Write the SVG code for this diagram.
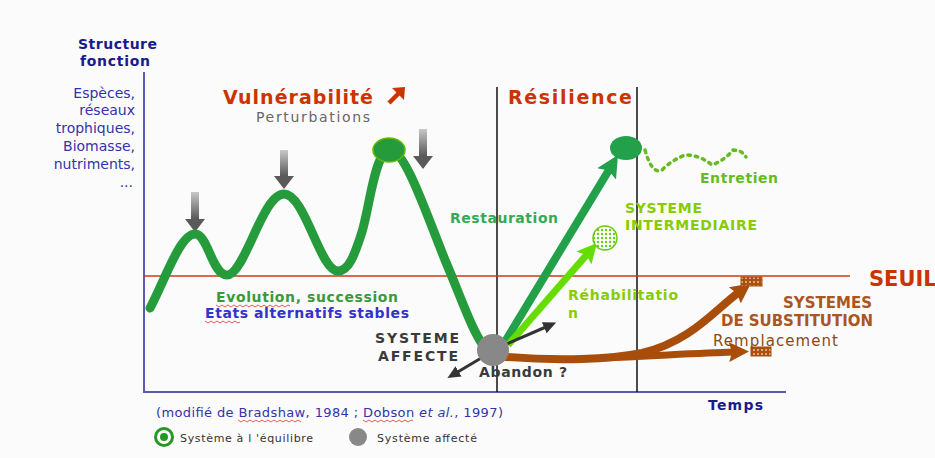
<svg xmlns="http://www.w3.org/2000/svg" width="935" height="458" viewBox="0 0 935 458">
<style>
text{font-family:"DejaVu Sans","Liberation Sans",sans-serif}
.b{font-weight:bold}
.lab{font-size:14px;fill:#3333aa;text-anchor:end}
.ax{stroke:#5a5ab4;stroke-width:2;fill:none}
.vl{stroke:#111;stroke-width:1.5}
.sq{stroke:#e03030;stroke-width:0.8;fill:none}
</style>
<defs>
<linearGradient id="gg" x1="0" y1="0" x2="0" y2="1">
<stop offset="0" stop-color="#c8c8c8"/><stop offset="1" stop-color="#555"/>
</linearGradient>
<pattern id="dots" width="4" height="4" patternUnits="userSpaceOnUse">
<rect width="4" height="4" fill="#aa5011"/><circle cx="2" cy="2" r="0.9" fill="#f0d0b0"/>
</pattern>
<pattern id="gdots" width="4" height="4" patternUnits="userSpaceOnUse">
<rect width="4" height="4" fill="#fff"/><circle cx="2" cy="2" r="1.2" fill="#66cc11"/>
</pattern>
<marker id="mg" markerUnits="userSpaceOnUse" markerWidth="26" markerHeight="26" viewBox="0 0 26 26" refX="6" refY="13" orient="auto">
<path d="M0,2 L22,13 L0,24 L4,13 z" fill="#22a04a"/>
</marker>
<marker id="ml" markerUnits="userSpaceOnUse" markerWidth="24" markerHeight="24" viewBox="0 0 24 24" refX="6" refY="12" orient="auto">
<path d="M0,2 L20,12 L0,22 L4,12 z" fill="#66dd00"/>
</marker>
<marker id="mb" markerUnits="userSpaceOnUse" markerWidth="24" markerHeight="24" viewBox="0 0 24 24" refX="4" refY="12" orient="auto">
<path d="M0,2 L20,12 L0,22 L3,12 z" fill="#a84e0a"/>
</marker>
<marker id="mk" markerUnits="userSpaceOnUse" markerWidth="16" markerHeight="16" viewBox="0 0 16 16" refX="3" refY="8" orient="auto">
<path d="M0,2 L13,8 L0,14 z" fill="#333"/>
</marker>
</defs>
<rect width="935" height="458" fill="#fbfbfb"/>

<g id="axes">
<line class="ax" x1="144" y1="72" x2="144" y2="393"/>
<line class="ax" x1="143" y1="392" x2="786" y2="392"/>
<line class="vl" x1="497" y1="87" x2="497" y2="392"/>
<line class="vl" x1="637" y1="87" x2="637" y2="392"/>
<line x1="144" y1="276" x2="850" y2="276" stroke="#d03a10" stroke-width="1.6"/>
<text class="b" x="78" y="49" font-size="14" fill="#1a1a8c" textLength="79">Structure</text>
<text class="b" x="80" y="66" font-size="14" fill="#1a1a8c" textLength="70">fonction</text>
<text class="lab" x="135" y="98">Espèces,</text>
<text class="lab" x="135" y="115">réseaux</text>
<text class="lab" x="135" y="133">trophiques,</text>
<text class="lab" x="135" y="151">Biomasse,</text>
<text class="lab" x="135" y="169">nutriments,</text>
<text class="lab" x="133" y="187">...</text>
<text class="b" x="708" y="410" font-size="14" fill="#1a1a8c" textLength="55">Temps</text>
<text class="b" x="869" y="286" font-size="21" fill="#cc3300">SEUIL</text>
</g>

<g id="titles">
<text class="b" x="223" y="104" font-size="19" fill="#cc3300" textLength="150">Vulnérabilité</text>
<path d="M389,103 L399,93" stroke="#cc3300" stroke-width="4.5"/>
<path d="M392,88 L405,87 L404,100 z" fill="#cc3300"/>
<text x="256" y="122" font-size="14" fill="#666" textLength="114">Perturbations</text>
<text class="b" x="508" y="104" font-size="19" fill="#cc3300" textLength="124">Résilience</text>
</g>

<g id="perturbations">
<g id="p1"><rect x="191" y="192" width="8" height="28" fill="url(#gg)"/><path d="M185,219 L205,219 L195,232 z" fill="#5a5a5a"/></g>
<g id="p2"><rect x="280" y="150" width="8" height="27" fill="url(#gg)"/><path d="M274,176 L294,176 L284,189 z" fill="#5a5a5a"/></g>
<g id="p3"><rect x="419" y="129" width="8" height="28" fill="url(#gg)"/><path d="M413,156 L433,156 L423,169 z" fill="#5a5a5a"/></g>
</g>

<g id="connectors">
<path id="trajectory" d="M150,308 C165,280 180,234 195,234 C208,234 212,275 227,275 C245,275 262,194 284,194 C305,194 320,271 338,271 C350,271 356,250 362,232 C370,205 375,150 390,150 C405,150 425,210 445,260 C462,300 472,330 483,345" fill="none" stroke="#259b3c" stroke-width="9" stroke-linecap="round"/>
<path id="entretien-wave" d="M645,150 Q652,175 662,170 Q672,160 685,155 Q700,155 712,165 Q725,160 733,150 Q742,150 746,157" fill="none" stroke="#66bb22" stroke-width="3.5" stroke-dasharray="2.5 5" stroke-linecap="round"/>
<path id="remplacement2" d="M600,358 C650,356 700,353 733,352" fill="none" stroke="#a84e0a" stroke-width="7" marker-end="url(#mb)"/>
<path id="remplacement" d="M495,356 C560,362 612,359 642,353 C690,342 715,310 738,293" fill="none" stroke="#a84e0a" stroke-width="8" marker-end="url(#mb)"/>
<line id="restauration" x1="503" y1="345" x2="609.7" y2="168.7" stroke="#22a04a" stroke-width="8" marker-end="url(#mg)"/>
<line id="rehabilitation" x1="508" y1="345" x2="587.8" y2="253.5" stroke="#66dd00" stroke-width="7" marker-end="url(#ml)"/>
<line id="up" x1="495" y1="349" x2="547" y2="326.5" stroke="#333" stroke-width="3" marker-end="url(#mk)"/>
<line id="down" x1="493" y1="351" x2="456" y2="373" stroke="#333" stroke-width="3" marker-end="url(#mk)"/>
</g>

<g id="peak">
<ellipse cx="389" cy="150" rx="16" ry="12" fill="#259b3c" stroke="#66bb00" stroke-width="1.5"/>
</g>
<g id="restored">
<ellipse cx="626" cy="148" rx="16" ry="12" fill="#22a04a"/>
</g>
<g id="intermediaire">
<circle cx="605" cy="238" r="12" fill="url(#gdots)" stroke="#66cc11" stroke-width="1.5"/>
<text class="b" x="625" y="213" font-size="14" fill="#88cc00" textLength="77">SYSTEME</text>
<text class="b" x="625" y="230" font-size="14" fill="#88cc00" textLength="132">INTERMEDIAIRE</text>
</g>
<g id="affecte">
<circle cx="493" cy="350" r="16" fill="#888"/>
<text class="b" x="459" y="343" font-size="14" fill="#3a3a3a" text-anchor="end" textLength="84">SYSTEME</text>
<text class="b" x="458" y="361" font-size="14" fill="#3a3a3a" text-anchor="end" textLength="80">AFFECTE</text>
<text class="b" x="479" y="377" font-size="14" fill="#3a3a3a" textLength="88">Abandon ?</text>
</g>
<g id="substitution">
<rect x="741" y="277" width="21" height="9" fill="url(#dots)" stroke="#a84e0a" stroke-width="1"/>
<rect x="751" y="347" width="20" height="9" fill="url(#dots)" stroke="#a84e0a" stroke-width="1"/>
<text class="b" x="872" y="308" font-size="15" fill="#aa5522" text-anchor="end" textLength="89">SYSTEMES</text>
<text class="b" x="873" y="326" font-size="15" fill="#aa5522" text-anchor="end" textLength="152">DE SUBSTITUTION</text>
<text x="713" y="346" font-size="15" fill="#8a4a1a" textLength="125">Remplacement</text>
</g>
<g id="labels">
<text class="b" x="450" y="223" font-size="14" fill="#33aa55" textLength="108">Restauration</text>
<text class="b" x="700" y="183" font-size="14" fill="#66bb22" textLength="78">Entretien</text>
<text class="b" x="568" y="300" font-size="14" fill="#88cc00" textLength="110">Réhabilitatio</text>
<text class="b" x="568" y="318" font-size="14" fill="#88cc00">n</text>
<text class="b" x="216" y="302" font-size="14" fill="#3a9a3a" textLength="182">Evolution, succession</text>
<text class="b" x="205" y="318" font-size="14" fill="#3333cc" textLength="204">Etats alternatifs stables</text>
<path class="sq" d="M216,305 l3,2 l3,-2 l3,2 l3,-2 l3,2 l3,-2 l3,2 l3,-2 l3,2 l3,-2 l3,2 l3,-2 l3,2 l3,-2 l3,2 l3,-2 l3,2 l3,-2 l3,2 l3,-2 l3,2 l3,-2 l3,2 l3,-2 l2,1"/>
<path class="sq" d="M205,321 l3,2 l3,-2 l3,2 l3,-2 l3,2 l3,-2 l3,2 l3,-2 l3,2 l3,-2 l3,2 l2,-1"/>
</g>
<g id="source">
<text x="156" y="417" font-size="13" fill="#3333aa" textLength="347">(modifié de Bradshaw, 1984 ; Dobson <tspan font-style="italic">et al.</tspan>, 1997)</text>
<path class="sq" d="M238,420 l3,2 l3,-2 l3,2 l3,-2 l3,2 l3,-2 l3,2 l3,-2 l3,2 l3,-2 l3,2 l3,-2 l3,2 l3,-2 l3,2 l3,-2 l3,2 l3,-2 l3,2 l3,-2 l3,2"/>
<path class="sq" d="M363,420 l3,2 l3,-2 l3,2 l3,-2 l3,2 l3,-2 l3,2 l3,-2 l3,2 l3,-2 l3,2 l3,-2 l3,2 l3,-2 l3,2 l3,-2 l2,1"/>
</g>
<g id="legend">
<circle cx="164" cy="437" r="8.5" fill="#fff" stroke="#229922" stroke-width="3"/>
<circle cx="164" cy="437" r="4" fill="#229922"/>
<text x="180" y="442" font-size="11" fill="#333" textLength="133">Système à l 'équilibre</text>
<circle cx="358" cy="437" r="9" fill="#888"/>
<text x="377" y="442" font-size="11" fill="#333" textLength="100">Système affecté</text>
</g>
</svg>
